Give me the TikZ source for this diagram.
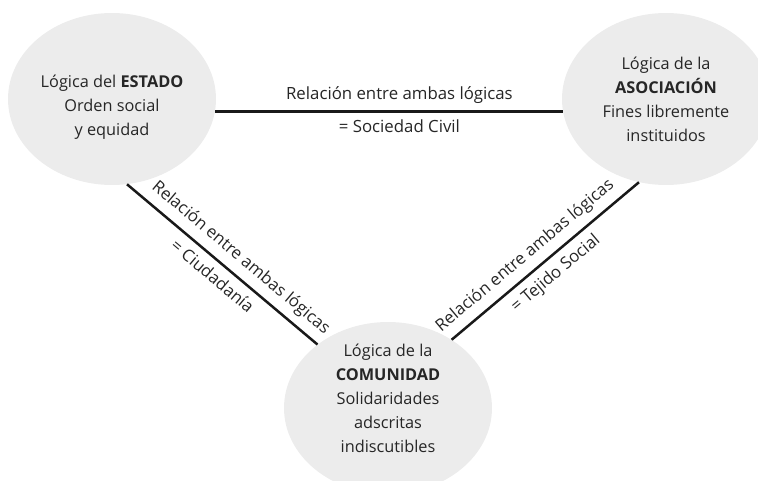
\documentclass[tikz,border=0pt]{standalone}
\usepackage{fontspec}
\setmainfont{Open Sans}
\usetikzlibrary{shapes.geometric}
\definecolor{logicfill}{RGB}{236,236,236}
\definecolor{logictext}{RGB}{38,38,38}
\tikzset{
    logic-ellipse/.style = {ellipse, fill=logicfill, minimum width=208pt, minimum height=172pt, inner sep=0pt},
    logic-text/.style = {align=center, text=logictext, inner sep=0pt, font=\fontsize{16.3}{24}\selectfont},
    relation-line/.style = {line width=2.5pt, black!90},
    relation-label/.style = {text=logictext, inner sep=0pt, font=\fontsize{16.8}{18}\selectfont},
}

\begin{document}
\begin{tikzpicture}[x=1pt,y=-1pt]
\useasboundingbox (0,0) rectangle (758,481);
\node [logic-ellipse] (estado) at (112,99) {};
\node [logic-ellipse] (asoc) at (666,99) {};
\node [logic-ellipse] (comunidad) at (388,408) {};
\node [logic-text] (estado-text) at ([yshift=-8pt]estado.center) {Lógica del \textbf{ESTADO}\\Orden social\\y equidad};
\node [logic-text] (asoc-text) at (asoc.center) {Lógica de la\\\textbf{ASOCIACIÓN}\\Fines libremente\\instituidos};
\node [logic-text] (comunidad-text) at ([yshift=10pt]comunidad.center) {Lógica de la\\\textbf{COMUNIDAD}\\Solidaridades\\adscritas\\indiscutibles};
\draw [relation-line] (estado.-7) -- node[relation-label, pos=0.53, above=7pt] {Relación entre ambas lógicas} node[relation-label, pos=0.53, below=7pt] {= Sociedad Civil} (asoc.187);
\draw [relation-line] (estado.-80) -- node[relation-label, pos=0.54, sloped, above=7pt] {Relación entre ambas lógicas} node[relation-label, sloped, below=7pt] {= Ciudadanía} (comunidad.138);
\draw [relation-line] (comunidad.47) -- node[relation-label, pos=0.45, sloped, above=7pt] {Relación entre ambas lógicas} node[relation-label, sloped, below=7pt] {= Tejido Social} (asoc.252);
\end{tikzpicture}
\end{document}
